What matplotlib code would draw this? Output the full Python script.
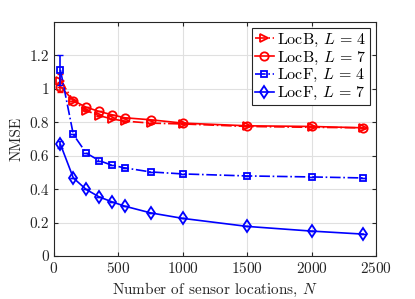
import numpy as np
import matplotlib
matplotlib.use("Agg")
import matplotlib.pyplot as plt

plt.rcParams['font.family'] = 'serif'
plt.rcParams['font.serif'] = ['cmr10']
plt.rcParams['mathtext.fontset'] = 'cm'
plt.rcParams['axes.formatter.use_mathtext'] = True

# sensor locations
N = [50, 150, 250, 350, 450, 550, 750, 1000, 1500, 2000, 2400]

# NMSE values
locb_l4 = [1.05, 0.93, 0.87, 0.84, 0.82, 0.807, 0.795, 0.79, 0.775, 0.77, 0.767]
locb_l7 = [1.014, 0.93, 0.89, 0.865, 0.845, 0.827, 0.815, 0.795, 0.779, 0.775, 0.767]
locf_l4 = [1.113, 0.727, 0.616, 0.571, 0.543, 0.527, 0.503, 0.491, 0.479, 0.473, 0.467]
locf_l7 = [0.668, 0.467, 0.398, 0.354, 0.324, 0.298, 0.258, 0.225, 0.177, 0.149, 0.131]

# error bar half widths (only visible at first point)
err_b4 = [0.04, 0, 0, 0, 0, 0, 0, 0, 0, 0, 0]
err_b7 = [0.03, 0, 0, 0, 0, 0, 0, 0, 0, 0, 0]
err_f4 = [0.09, 0, 0, 0, 0, 0, 0, 0, 0, 0, 0]
err_f7 = [0.02, 0, 0, 0, 0, 0, 0, 0, 0, 0, 0]

labels = [r'LocB, $L\,=\,4$', r'LocB, $L\,=\,7$', r'LocF, $L\,=\,4$', r'LocF, $L\,=\,7$']

fig = plt.figure(figsize=(4.15, 2.99), dpi=100)
ax = fig.add_axes([54/415, 1-256/299, (376-54)/415, (256-22)/299])

series = [
    (locb_l4, err_b4, '#ff0000', '-.', '>', 6),
    (locb_l7, err_b7, '#ff0000', '-', 'o', 6),
    (locf_l4, err_f4, '#0000ff', '-.', 's', 5),
    (locf_l7, err_f7, '#0000ff', '-', 'd', 6),
]
for (y, e, c, ls, m, ms), lab in zip(series, labels):
    ax.errorbar(N, y, yerr=e, color=c, ls='none', lw=1.2, capsize=2)
    ax.plot(N, y, color=c, ls=ls, marker=m, ms=ms, mfc='none', mew=1.3, lw=1.2, label=lab)

ax.set_xlim(0, 2500)
ax.set_ylim(0, 1.4)
ax.set_xticks([0, 500, 1000, 1500, 2000, 2500])
ax.set_yticks([0, 0.2, 0.4, 0.6, 0.8, 1.0, 1.2])
ax.set_yticklabels(['0', '0.2', '0.4', '0.6', '0.8', '1', '1.2'])
ax.grid(True, color='#e0e0e0', lw=0.8)
ax.set_axisbelow(True)
ax.tick_params(direction='in', top=True, right=True, labelsize=11, colors='#262626', length=3)
for s in ax.spines.values():
    s.set_color('#262626')
    s.set_linewidth(0.8)

ax.set_xlabel(r'Number of sensor locations, $N$', fontsize=11, color='#262626')
ax.set_ylabel('NMSE', fontsize=11, color='#262626')

leg = ax.legend(loc='upper right', fontsize=11.5, frameon=True, fancybox=False,
                edgecolor='#262626', borderpad=0.2, labelspacing=0.05,
                handlelength=1.2, handletextpad=0.2, borderaxespad=0.4, framealpha=1)
leg.get_frame().set_linewidth(0.8)

fig.savefig('out.png', dpi=100)
